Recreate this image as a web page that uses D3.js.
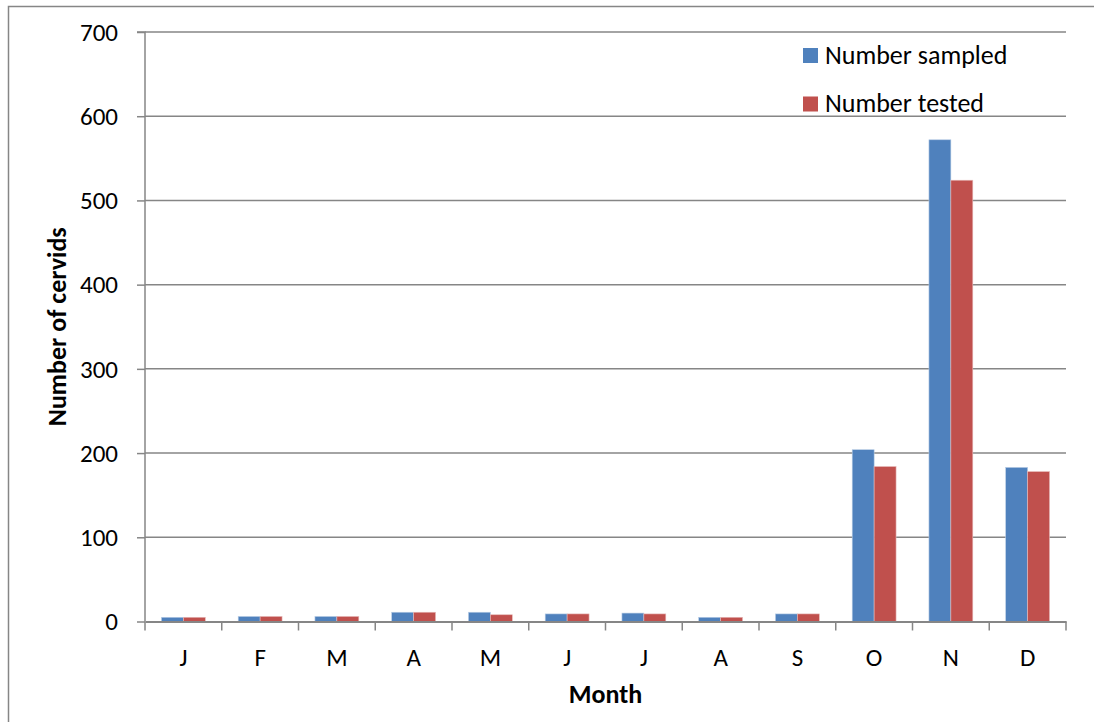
<!DOCTYPE html>
<html><head><meta charset="utf-8">
<script src="https://cdn.jsdelivr.net/npm/d3@7"></script>
<style>body{margin:0;background:#fff;} svg{display:block;}</style>
</head><body>
<svg id="c" width="1094" height="722"></svg>
<script>
const months = ["J","F","M","A","M","J","J","A","S","O","N","D"];
const sampled = [5,6,6,11,11,9,10,5,9,204,572,183];
const tested  = [5,6,6,11,8,9,9,5,9,184,524,178];
const seriesNames = ["Number sampled","Number tested"];
const colors = ["#4F81BD","#C0504D"];
const yTicks = [0,100,200,300,400,500,600,700];

const font = "Carlito, Calibri, Lato, sans-serif";
const svg = d3.select("#c");
const L=145, R=1066, T=32, B=621.5;

// outer border
svg.append("rect").attr("x",8.5).attr("y",6.5).attr("width",1100).attr("height",730)
  .attr("fill","none").attr("stroke","#868686").attr("stroke-width",1.5);

const x = d3.scaleBand().domain(d3.range(months.length)).range([L,R]).paddingInner(0).paddingOuter(0);
const x1 = d3.scaleBand().domain([0,1]).range([0,x.bandwidth()]).paddingOuter(0.75).paddingInner(0);
const y = d3.scaleLinear().domain([0,700]).range([B,T]);

// gridlines
svg.append("g").selectAll("line").data(yTicks.slice(1)).join("line")
  .attr("x1",L).attr("x2",R).attr("y1",d=>y(d)).attr("y2",d=>y(d))
  .attr("stroke","#868686").attr("stroke-width",1.5);

// bars
const data = months.map((m,i)=>[sampled[i],tested[i]]);
const g = svg.append("g");
data.forEach((vals,i)=>{
  vals.forEach((v,s)=>{
    g.append("rect").attr("x",x(i)+x1(s)).attr("width",x1.bandwidth())
      .attr("y",y(v)).attr("height",B-y(v)).attr("fill",colors[s])
      .attr("stroke", s===0?"#b9cde5":"#e6b9b8").attr("stroke-width",0.6);
  });
});

// y axis
const ya = svg.append("g").attr("transform",`translate(${L},0)`)
  .call(d3.axisLeft(y).tickValues(yTicks).tickSize(8).tickPadding(19).tickFormat(d3.format("d")));
ya.select(".domain").attr("stroke","#868686").attr("stroke-width",1.5).attr("d",`M-8,${T}H0V${B}`);
ya.selectAll(".tick line").attr("stroke","#868686").attr("stroke-width",1.5);
ya.selectAll("text").attr("font-family",font).attr("font-size","25px").attr("fill","#000").attr("dy","0.33em");

// x axis
const xa = svg.append("g").attr("transform",`translate(0,${B})`)
  .call(d3.axisBottom(x).tickFormat(i=>months[i]).tickSize(0));
xa.select(".domain").attr("stroke","#868686").attr("stroke-width",2);
xa.selectAll("text").attr("font-family",font).attr("font-size","25px").attr("fill","#000")
  .attr("y",44).attr("dy",0);
svg.append("g").selectAll("line").data(d3.range(months.length+1)).join("line")
  .attr("x1",i=>L+i*x.step()).attr("x2",i=>L+i*x.step())
  .attr("y1",B).attr("y2",B+9).attr("stroke","#868686").attr("stroke-width",1.5);

// axis titles
svg.append("text").attr("x",(L+R)/2).attr("y",703).attr("text-anchor","middle")
  .attr("font-family",font).attr("font-size","26px").attr("font-weight","bold").text("Month");
svg.append("text").attr("transform",`translate(66,${(T+B)/2}) rotate(-90)`).attr("text-anchor","middle")
  .attr("font-family",font).attr("font-size","26px").attr("font-weight","bold").text("Number of cervids");

// legend
const lg = svg.append("g");
seriesNames.forEach((n,i)=>{
  lg.append("rect").attr("x",803).attr("y",48+i*48.5).attr("width",15).attr("height",15).attr("fill",colors[i]);
  lg.append("text").attr("x",825).attr("y",63.5+i*48.5).attr("font-family",font).attr("font-size","26px").text(n);
});
</script>
</body></html>
